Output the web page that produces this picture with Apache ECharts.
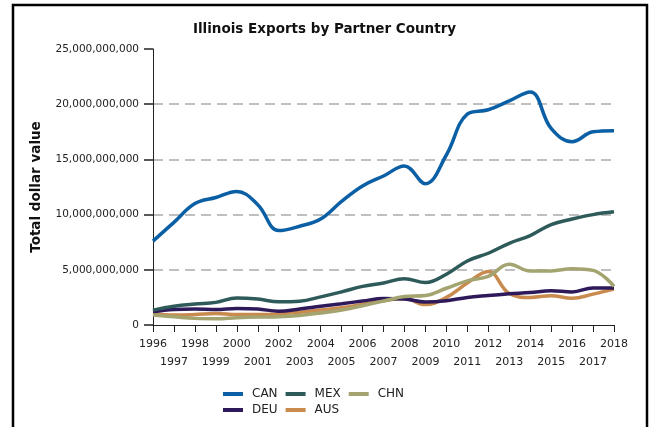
<!DOCTYPE html>
<html>
<head>
<meta charset="utf-8">
<title>Illinois Exports by Partner Country</title>
<script src="https://cdn.jsdelivr.net/npm/echarts@6/dist/echarts.min.js"></script>
<style>
    html, body { margin: 0; padding: 0; background: #fff; }
    #main { width: 649px; height: 427px; }
</style>
</head>
<body>
<div id="main"></div>
<script>
// 年份与各国出口额（单位：十亿美元，按图读数估计）
var years = ['1996','1997','1998','1999','2000','2001','2002','2003','2004','2005','2006','2007',
             '2008','2009','2010','2011','2012','2013','2014','2015','2016','2017','2018'];
var CAN = [7.6, 9.3, 11.0, 11.55, 12.1, 10.9, 8.55, 8.95, 9.6, 11.2, 12.6, 13.5, 14.4, 12.8, 15.4, 19.1, 19.5, 20.3, 21.1, 17.8, 16.6, 17.5, 17.6];
var MEX = [1.35, 1.7, 1.9, 2.05, 2.45, 2.35, 2.1, 2.15, 2.55, 3.0, 3.5, 3.8, 4.2, 3.85, 4.6, 5.8, 6.5, 7.4, 8.1, 9.1, 9.6, 10.0, 10.25];
var CHN = [0.9, 0.75, 0.6, 0.57, 0.66, 0.72, 0.75, 0.87, 1.08, 1.36, 1.75, 2.17, 2.58, 2.67, 3.33, 4.0, 4.4, 5.5, 4.9, 4.9, 5.1, 4.95, 3.5];
var DEU = [1.2, 1.4, 1.45, 1.4, 1.5, 1.45, 1.25, 1.45, 1.7, 1.93, 2.17, 2.4, 2.35, 2.08, 2.2, 2.5, 2.67, 2.82, 2.94, 3.1, 3.0, 3.35, 3.35];
var AUS = [1.0, 0.9, 0.95, 1.05, 0.95, 0.95, 1.0, 1.15, 1.35, 1.57, 1.87, 2.2, 2.4, 1.85, 2.5, 3.8, 4.85, 2.85, 2.5, 2.65, 2.42, 2.8, 3.25];
var yTicks = [0, 5, 10, 15, 20, 25];
var UNIT = 1e9;

var countries = ['CAN','MEX','CHN','DEU','AUS'];
var seriesData = {CAN: CAN, MEX: MEX, CHN: CHN, DEU: DEU, AUS: AUS};
var colors = {CAN: '#0b5fa5', MEX: '#2e5a5a', CHN: '#a3a46f', DEU: '#2e1a5a', AUS: '#c98a4e'};
var FONT = 'DejaVu Sans';

//千分位格式化
function withCommas(v){
    return String(Math.round(v)).replace(/\B(?=(\d{3})+(?!\d))/g, ',');
}

var series = [];
for (var i = 0; i < countries.length; i++) {
    var c = countries[i];
    series.push({
        name: c,
        type: 'line',
        smooth: 0.4,
        symbol: 'none',
        lineStyle: {width: 3.5, color: colors[c]},
        itemStyle: {color: colors[c]},
        data: seriesData[c].map(function (v) { return v * UNIT; })
    });
}
// 让CAN画在最上面
series.reverse();

var legendCommon = {
    icon: 'rect',
    itemWidth: 20,
    itemHeight: 4,
    itemGap: 8,
    left: 218,
    textStyle: {fontFamily: FONT, fontSize: 12, color: '#222', padding: [0, 0, 0, 4]}
};

var myChart = echarts.init(document.getElementById('main'), null, {renderer: 'canvas'});
myChart.setOption({
    animation: false,
    color: countries.map(function (c) { return colors[c]; }),
    title: {
        text: 'Illinois Exports by Partner Country',
        left: 'center',
        top: 17,
        textStyle: {fontFamily: FONT, fontSize: 13.5, fontWeight: 'bold', color: '#111'}
    },
    legend: [
        Object.assign({}, legendCommon, {top: 383, data: ['CAN','MEX','CHN']}),
        Object.assign({}, legendCommon, {top: 399, data: ['DEU','AUS']})
    ],
    grid: {left: 153, right: 35, top: 49, bottom: 102, containLabel: false},
    xAxis: {
        type: 'category',
        boundaryGap: false,
        data: years,
        axisLine: {lineStyle: {color: '#222', width: 1}},
        axisTick: {show: true, interval: 0, length: 7, lineStyle: {color: '#222'}},
        axisLabel: {
            interval: 0,
            margin: 10,
            fontFamily: FONT,
            fontSize: 11,
            color: '#222',
            lineHeight: 18,
            formatter: function (v, idx) { return idx % 2 ? '\n' + v : v; }
        },
        splitLine: {show: false}
    },
    yAxis: {
        type: 'value',
        min: yTicks[0] * UNIT,
        max: yTicks[yTicks.length - 1] * UNIT,
        interval: (yTicks[1] - yTicks[0]) * UNIT,
        name: 'Total dollar value',
        nameLocation: 'middle',
        nameGap: 110,
        nameRotate: 90,
        nameTextStyle: {fontFamily: FONT, fontSize: 13.5, fontWeight: 'bold', color: '#111'},
        axisLine: {show: true, lineStyle: {color: '#222', width: 1}},
        axisTick: {show: true, length: 9, lineStyle: {color: '#222', width: 1.5}},
        axisLabel: {fontFamily: FONT, fontSize: 10.5, color: '#222', margin: 14, formatter: withCommas},
        splitLine: {
            show: true,
            showMinLine: false,
            showMaxLine: false,
            lineStyle: {color: '#aaa', width: 1.5, type: [10, 6]}
        }
    },
    graphic: [{
        type: 'rect',
        shape: {x: 13, y: 5, width: 634, height: 500},
        style: {fill: null, stroke: '#000', lineWidth: 2.5},
        silent: true,
        z: 100
    }],
    series: series
});
</script>
</body>
</html>
